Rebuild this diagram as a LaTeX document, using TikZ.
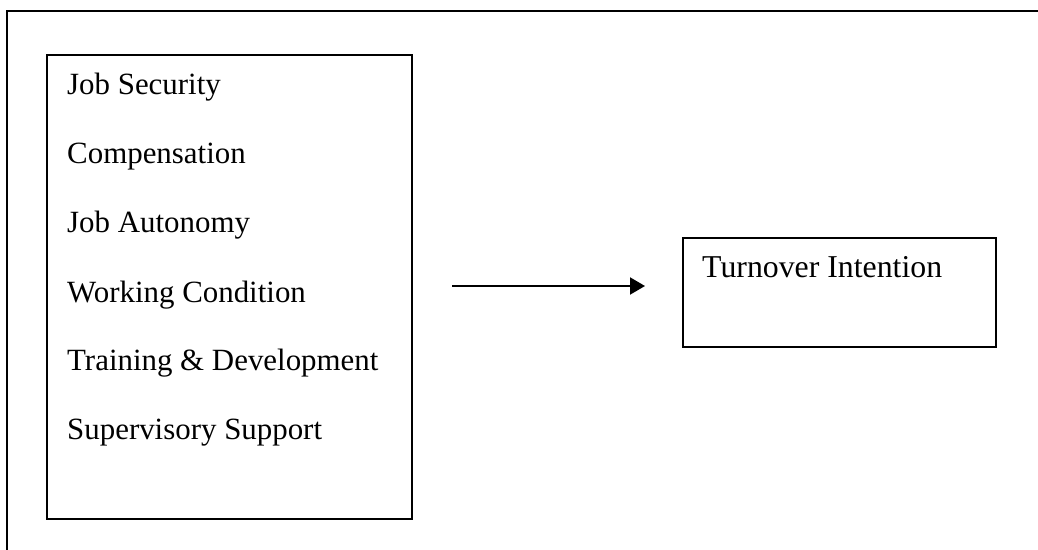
\documentclass[tikz,border=0pt]{standalone}
\usepackage{fontspec}
\setmainfont{Liberation Serif}
\usetikzlibrary{arrows.meta}
\begin{document}
\begin{tikzpicture}[x=1pt,y=-1pt,
  boxstyle/.style={draw=black,line width=1.6pt,inner sep=0pt},
  itemtext/.style={anchor=base west,inner sep=0pt,font=\fontsize{30.9}{36}\selectfont},
  framestyle/.style={draw=black,line width=2pt},
  arrowstyle/.style={line width=2pt,-{Triangle[length=15pt,width=17pt]}}]
\useasboundingbox (0,0) rectangle (1038,549);
\draw[framestyle] (7,560) -- (7,11) -- (1050,11);
\node[boxstyle,minimum width=365pt,minimum height=464pt,anchor=north west] (left) at (46,54) {};
\node[itemtext] (t1) at (67,94) {Job Security};
\node[itemtext] (t2) at (67,163) {Compensation};
\node[itemtext] (t3) at (67,232) {Job Autonomy};
\node[itemtext] (t4) at (67,302) {Working Condition};
\node[itemtext] (t5) at (67,370) {Training \& Development};
\node[itemtext] (t6) at (67,439) {Supervisory Support};
\node[boxstyle,minimum width=313pt,minimum height=109pt,anchor=north west] (right) at (682,237) {};
\node[itemtext,font=\fontsize{31.8}{36}\selectfont] (r1) at (702,277) {Turnover Intention};
\coordinate (a1) at (452,286);
\coordinate (a2) at (645,286);
\draw[arrowstyle] (a1) -- (a2);
\end{tikzpicture}
\end{document}
